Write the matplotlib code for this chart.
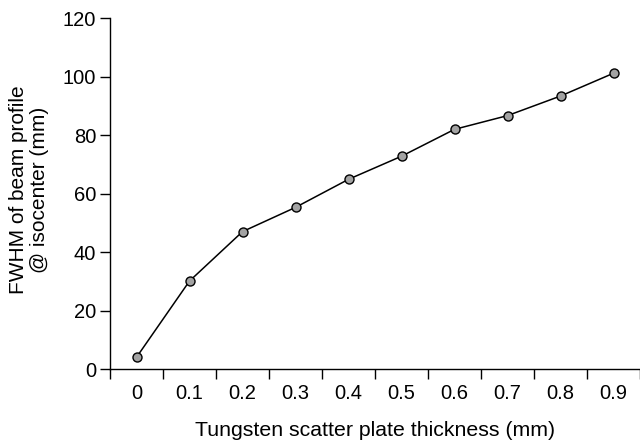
import matplotlib
matplotlib.use('Agg')
import matplotlib.pyplot as plt

# thickness categories and measured FWHM
thickness = ['0', '0.1', '0.2', '0.3', '0.4', '0.5', '0.6', '0.7', '0.8', '0.9']
fwhm = [4.0, 30.1, 47.0, 55.3, 64.9, 72.8, 82.0, 86.7, 93.4, 101.2]
y_ticks = [0, 20, 40, 60, 80, 100, 120]

plt.rcParams['font.family'] = ['Liberation Sans', 'DejaVu Sans']
plt.rcParams['font.size'] = 14.5

fig = plt.figure(figsize=(6.4, 4.4), dpi=100)
ax = fig.add_axes([110/640, 1 - 369/440, 530/640, (369 - 18.3)/440])

xs = range(len(thickness))
ax.plot(xs, fwhm, color='black', lw=1.1, marker='o', ms=6.5,
        mfc='#a3a3a3', mec='black', mew=1.0, clip_on=False, zorder=3)

# category axis: ticks between categories, labels centered
ax.set_xlim(-0.5, 9.44)
ax.set_xticks([i - 0.5 for i in range(len(thickness) + 1)])
ax.set_xticklabels([])
ax.set_xticks(list(xs), minor=True)
ax.set_xticklabels(thickness, minor=True)
ax.tick_params(axis='x', which='major', direction='out', length=7, width=1)
ax.tick_params(axis='x', which='minor', length=0, pad=11)

ax.set_ylim(0, 120)
ax.set_yticks(y_ticks)
ax.tick_params(axis='y', direction='out', length=7, width=1, pad=3)

for s in ['top', 'right']:
    ax.spines[s].set_visible(False)
for s in ['left', 'bottom']:
    ax.spines[s].set_linewidth(1)

ax.set_xlabel('Tungsten scatter plate thickness (mm)', fontsize=15.3, labelpad=13)
ax.set_ylabel('FWHM of beam profile\n@ isocenter (mm)', fontsize=15,
              labelpad=10, linespacing=1.15, y=0.51)

plt.savefig('out.png', dpi=100)
